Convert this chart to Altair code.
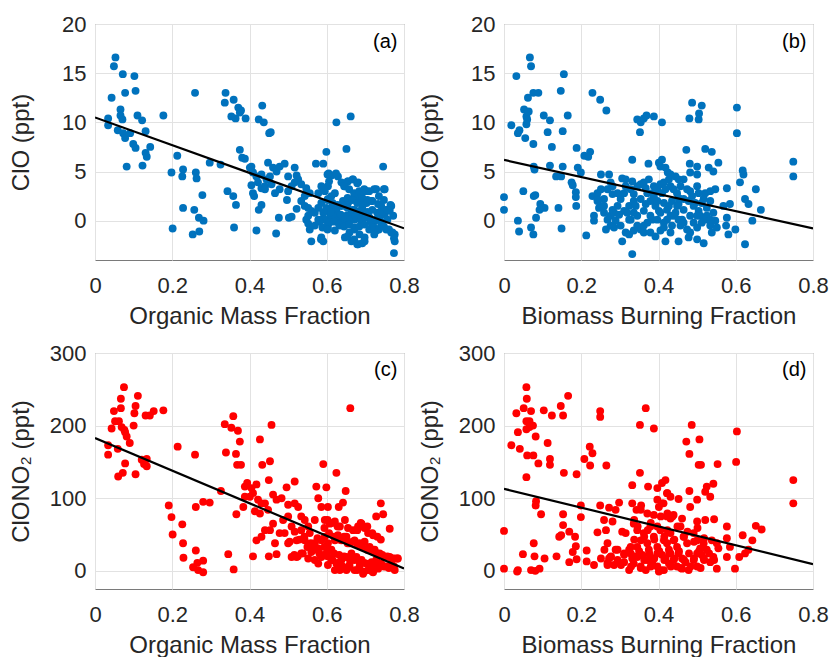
import altair as alt
import pandas as pd

# ---------------- data ----------------
# (a) ClO vs Organic Mass Fraction
a_x = [.053,.049,.072,.102,.105,.078,.043,.066,.066,.071,.034,.034,.059,.073,.078,.091,.110,.122,.131,.099,
       .105,.143,.131,.134,.082,.123,.177,.259,.213,.198,.228,.226,.261,.263,.278,.228,.257,.269,.281,.201,
       .253,.270,.297,.325,.338,.336,.359,.371,.375,.353,.364,.390,.378,.433,.424,.437,.455,.451,.375,.381,
       .388,.401,.405,.343,.358,.365,.360,.418,.469,.476,.409,.418,.431,.448,.461,.470,.478,.491,.517,.500,
       .522,.526,.453,.444,.422,.405,.431,.440,.457,.466,.478,.500,.509,.517,.534,.547,.556,.543,.534,.497,
       .522,.509,.502,.412,.409,.431,.424,.440,.543,.552,.560,.547,.552,.556,.569,.560,.586,.591,.599,.572,
       .591,.605,.612,.625,.662,.651,.603,.586,.578,.595,.603,.612,.621,.629,.638,.647,.655,.668,.681,.690,
       .703,.728,.750,.746,.586,.599,.608,.616,.625,.634,.642,.655,.668,.677,.690,.703,.716,.733,.741,.754,
       .767,.586,.603,.616,.629,.638,.651,.664,.672,.685,.698,.711,.724,.737,.750,.763,.772,.603,.621,.634,
       .647,.659,.672,.685,.698,.716,.728,.741,.754,.767,.776,.776,.681,.698,.664,.774,.647,.625,.672,.690,
       .707,.608,.591,.578,.569,.578,.552]
a_y = [16.6,15.7,14.9,14.7,13.2,13.0,12.5,11.3,10.7,10.3,10.4,9.7,9.2,8.9,8.4,8.9,10.7,10.2,9.1,7.8,
       7.4,7.5,6.9,6.5,5.5,5.6,10.7,13.0,6.6,4.9,5.2,4.5,4.9,4.3,2.6,1.3,1.1,0.3,0.0,-0.8,
       -1.4,-1.1,5.9,5.7,13.0,12.0,12.3,11.5,11.0,10.6,10.4,10.4,11.2,11.7,10.3,10.0,9.0,8.9,7.2,6.4,
       6.3,5.4,5.5,3.0,2.5,1.6,-0.7,-1.0,-1.3,0.3,4.9,4.5,4.7,5.9,5.4,5.0,5.5,5.8,5.4,4.5,
       4.6,4.2,4.5,4.2,3.9,3.6,3.3,3.5,3.7,2.8,3.2,3.0,3.5,3.9,3.7,3.3,2.8,2.5,2.0,2.1,
       1.2,0.4,0.3,2.5,2.8,1.6,1.1,3.2,1.5,1.3,1.0,0.1,-0.3,-0.9,-0.5,-2.1,-1.7,-2.1,7.0,5.8,
       5.8,4.8,4.6,10.0,10.6,7.3,3.5,3.5,2.8,3.0,2.2,2.5,2.8,4.5,3.9,3.5,4.0,4.2,3.9,2.8,
       3.0,3.2,3.2,5.5,1.8,1.3,0.8,1.5,1.0,1.5,2.0,1.8,2.2,2.3,2.0,1.8,2.0,1.7,1.5,1.1,
       1.5,0.1,-0.2,0.1,0.3,-0.2,0.5,0.8,0.1,0.5,0.6,0.3,0.0,0.5,0.6,1.0,0.5,-0.7,-1.0,-0.5,
       -1.7,-1.2,-0.9,-1.4,-1.7,-0.7,-1.0,-0.5,-0.9,-1.2,-1.4,-2.1,-2.4,-2.1,-2.1,-3.3,0.1,0.5,1.1,1.1,
       0.8,0.3,0.8,1.3,0.8,0.1,0.5]
# extra points from the dense cluster of (a)
a_x2 = [.602,.624,.606,.654,.667,.679,.645,.658,.671,.684,.697,.710,.723,.748,.692,.705,.718,.735,.748,.765,
        .654,.667,.679,.602,.615,.628,.641,.654,.667,.679,.692,.705,.718,.731,.744,.757,.598,.611,.624,.636,
        .649,.662,.675,.688,.701,.714,.727,.740,.757,.594,.606,.619,.632,.645,.658,.671,.684,.697,.710,.723,
        .735,.748,.761,.770,.581,.589,.602,.654,.671,.679,.692,.723,.774,.585]
a_y2 = [4.7,4.8,4.0,4.0,4.2,3.8,3.5,3.2,2.8,3.0,3.2,3.0,3.2,3.2,2.3,2.1,2.0,2.5,2.1,1.6,
        2.3,2.1,1.8,2.1,1.8,1.6,1.5,1.3,1.1,0.9,1.3,0.9,1.1,0.8,0.9,1.1,1.1,0.8,0.4,0.6,
        0.3,0.1,0.4,0.1,0.3,-0.1,0.1,-0.1,0.1,0.1,-0.2,-0.1,-0.4,-0.6,-0.4,-0.7,-0.6,-0.4,-0.9,-0.7,
        -0.9,-0.6,-0.9,-1.2,-0.1,-0.7,-0.9,-1.6,-1.9,-2.4,-2.3,-1.4,-1.8,-1.9]

# (b) ClO vs Biomass Burning Fraction
b_x = [.067,.070,.032,.155,.147,.076,.089,.062,.229,.249,.265,.052,.064,.058,.060,.058,.019,.040,.036,.055,
       .076,.103,.119,.113,.152,.165,.124,.188,.223,.208,.218,.077,.079,.119,.152,.135,.148,.175,.178,.186,
       .186,.187,.141,.149,.213,.233,.000,.000,.036,.039,.070,.076,.050,.081,.077,.094,.105,.092,.083,.191,
       .199,.229,.242,.251,.259,.246,.268,.264,.276,.285,.294,.302,.311,.328,.345,.354,.362,.375,.388,.397,
       .405,.414,.427,.431,.439,.448,.457,.465,.474,.482,.500,.521,.534,.547,.577,.611,.620,.652,.624,.633,
       .665,.643,.585,.568,.577,.575,.581,.599,.624,.618,.603,.603,.749,.749,.472,.481,.482,.500,.500,.521,
       .538,.530,.542,.555,.332,.374,.401,.409,.405,.418,.424,.431,.444,.452,.251,.272,.276,.306,.315,.332,
       .345,.354,.362,.369,.388,.409,.352,.487,.512,.505,.504,.480,.268,.281,.294,.251,.242,.233,.276,.289,
       .302,.315,.328,.336,.345,.354,.362,.371,.384,.392,.405,.418,.422,.435,.444,.452,.461,.474,.478,.491,
       .500,.517,.508,.521,.534,.547,.551,.332,.306,.259,.324,.367,.379,.392,.401,.414,.427,.435,.452,.465,
       .478,.491,.504,.512,.525,.311,.324,.336,.354,.371,.388,.409,.324,.345,.397,.414,.431,.457,.482,.525,
       .542]
b_y = [16.6,15.7,14.7,14.9,13.2,13.0,13.0,12.5,13.0,12.3,11.2,11.3,11.1,10.6,10.3,9.8,9.7,9.2,8.9,8.4,
       7.8,10.7,10.2,9.0,9.1,10.7,7.5,7.4,7.0,6.6,6.5,5.5,5.2,5.6,5.5,4.5,4.5,3.9,3.6,2.9,
       2.4,1.5,1.3,-0.8,-1.5,0.0,2.4,1.1,0.0,-1.1,-0.7,-1.4,3.0,2.6,2.5,1.7,1.3,1.1,0.3,5.4,
       4.9,2.5,2.0,1.5,2.2,1.3,0.1,-0.9,0.5,0.8,1.5,2.2,2.8,3.2,3.5,3.7,3.9,4.2,3.5,3.2,
       3.7,3.9,4.2,3.5,3.2,2.8,3.5,4.2,3.2,3.0,3.5,2.8,3.0,3.2,3.3,3.9,4.7,3.2,2.2,1.7,
       1.1,0.0,1.7,1.5,0.3,-0.5,-1.4,-0.9,-2.4,5.1,11.5,8.9,6.0,4.5,7.2,5.8,4.9,5.5,4.7,7.3,
       7.0,5.4,5.0,5.9,6.2,5.8,5.9,6.2,5.5,5.4,4.9,4.7,4.5,4.2,4.7,4.7,3.9,4.3,4.2,4.0,
       10.3,10.0,10.4,10.7,10.6,10.0,9.0,12.0,11.7,10.9,10.3,10.4,3.2,2.7,2.8,3.2,2.2,0.5,-0.5,0.0,
       -0.5,-1.2,0.1,0.8,-0.5,-0.9,-1.2,-0.2,0.1,-1.6,-1.0,-2.1,0.1,-0.5,0.8,-2.1,0.1,-0.9,-1.7,-0.2,
       -1.9,-2.3,0.5,0.1,-0.5,0.0,-0.7,-3.4,-2.1,0.8,-1.4,1.7,2.0,1.5,1.0,1.8,1.5,2.0,1.7,1.1,
       2.0,1.5,1.0,1.8,1.3,1.0,1.5,2.0,2.2,2.8,2.5,2.8,0.1,0.5,0.1,-0.2,0.5,-0.5,0.5,0.5,
       0.8]
# extra points from the dense cluster of (b)
b_x2 = [.242,.281,.315,.336,.367,.384,.418,.452,.465,.487,.504,.517,.534,.259,.281,.298,.319,.341,.362,.379,
        .405,.422,.440,.452,.465,.500,.512,.534,.285,.336,.362,.379,.414,.431,.482,.500,.538,.397,.448,.495]
b_y2 = [2.8,3.5,3.5,2.7,3.3,2.8,3.2,2.3,2.2,2.5,2.8,2.2,2.0,1.5,1.1,0.6,0.8,1.5,1.0,0.5,
        0.8,1.1,0.5,0.1,-0.2,0.5,-0.2,0.1,-0.7,-1.0,-0.5,-1.2,-0.7,-1.2,-1.2,-0.7,-1.2,2.0,1.5,1.8]

# (c) ClONO2 vs Organic Mass Fraction
c_x = [.075,.111,.067,.105,.067,.049,.102,.131,.142,.152,.177,.052,.062,.043,.069,.076,.078,.082,.090,.034,
       .034,.059,.078,.060,.072,.105,.121,.127,.134,.134,.100,.214,.259,.191,.198,.226,.201,.228,.229,.261,
       .254,.265,.280,.267,.280,.261,.280,.297,.326,.336,.353,.358,.370,.375,.339,.365,.368,.378,.366,.384,
       .345,.359,.388,.394,.405,.418,.427,.457,.433,.453,.450,.388,.401,.409,.414,.427,.422,.431,.440,.448,
       .461,.470,.483,.496,.517,.500,.517,.526,.461,.453,.440,.431,.418,.409,.450,.470,.466,.478,.487,.500,
       .509,.517,.522,.534,.543,.552,.556,.569,.573,.578,.586,.591,.599,.603,.625,.631,.642,.649,.661,.595,
       .608,.621,.634,.647,.655,.668,.681,.690,.698,.707,.720,.728,.746,.740,.763,.534,.543,.552,.560,.569,
       .578,.586,.595,.603,.612,.621,.629,.638,.651,.659,.672,.685,.698,.711,.724,.737,.750,.763,.776,.784,
       .522,.534,.552,.569,.586,.599,.612,.625,.638,.651,.664,.677,.690,.703,.716,.728,.741,.754,.767,.776,
       .634,.651,.672,.694,.720,.578,.603,.621,.659,.685,.707,.733,.500,.509,.491,.504]
c_y = [253,241,237,227,224,220,217,214,214,220,221,206,206,196,198,194,191,185,176,173,
       160,168,148,130,135,133,153,147,154,144,200,171,160,90,74,64,50,38,18,28,
       5,11,14,1,-2,88,95,94,110,202,197,213,193,178,163,161,146,146,78,88,
       23,2,116,121,114,119,181,201,146,151,125,102,102,107,82,79,98,93,93,84,
       105,98,100,115,123,91,93,88,65,56,56,47,42,20,20,23,38,52,70,75,
       61,54,42,75,70,61,52,70,116,100,88,147,115,88,135,88,94,110,224,70,
       65,68,61,70,59,56,61,65,59,52,49,75,78,93,58,56,42,33,26,38,
       31,42,47,38,29,42,49,42,47,38,42,38,40,33,29,24,19,19,17,17,
       19,24,17,15,19,24,15,10,15,19,24,19,15,10,12,15,10,6,10,1,
       1,1,1,-4,-2,10,8,1,8,6,1,3,38,19,52,40]
# extra points from the dense cluster of (c)
c_x2 = [.602,.615,.628,.594,.606,.619,.632,.645,.654,.667,.679,.692,.705,.718,.731,.744,.757,.770,.783,.594,
        .606,.619,.632,.645,.658,.671,.684,.697,.710,.723,.735,.748,.761,.774,.628,.641,.654,.679,.697,.718,
        .615,.602,.581,.568,.559,.550,.538,.525,.516,.542,.529,.576,.679,.688,.705,.718,.731,.740]
c_y2 = [70,66,61,59,52,47,43,47,38,40,36,33,29,27,24,22,20,17,17,33,
        29,24,22,20,17,15,13,11,8,6,8,6,4,6,11,6,4,1,-1,-1,
        15,20,24,29,38,33,24,20,22,47,43,45,56,66,61,52,47,43]

# (d) ClONO2 vs Biomass Burning Fraction
d_x = [.058,.166,.059,.051,.032,.070,.103,.124,.147,.153,.249,.249,.058,.066,.075,.058,.066,.036,.082,.019,
       .041,.113,.222,.229,.208,.223,.060,.076,.089,.119,.119,.265,.058,.155,.188,.352,.388,.367,.486,.472,
       .506,.480,.504,.510,.553,.603,.601,.749,.749,.352,.332,.373,.397,.409,.418,.422,.431,.452,.480,.500,
       .521,.525,.542,.534,.083,.082,.096,.153,.153,.199,.199,.249,.272,.289,.298,.332,.343,.355,.371,.388,
       .401,.409,.422,.431,.439,.461,.482,.500,.521,.544,.577,.652,.667,.618,.643,.143,.148,.169,.184,.186,
       .178,.000,.077,.049,.079,.105,.136,.000,.036,.034,.070,.081,.092,.169,.188,.214,.214,.233,.242,.259,
       .264,.268,.281,.272,.289,.306,.315,.311,.324,.328,.336,.345,.354,.362,.371,.379,.388,.397,.405,.414,
       .422,.431,.439,.448,.457,.465,.474,.491,.500,.508,.517,.525,.538,.551,.555,.577,.585,.577,.609,.624,
       .633,.598,.551,.276,.294,.311,.332,.345,.358,.371,.384,.397,.401,.414,.427,.439,.452,.461,.470,.478,
       .491,.500,.517,.534,.542,.251,.268,.285,.302,.336,.354,.367,.379,.431,.448,.461,.500,.512,.397,.409,
       .418,.427,.375,.345,.328]
d_y = [253,241,237,224,217,220,221,214,227,214,220,212,206,206,200,195,198,191,185,173,
       168,176,171,162,154,145,159,159,148,154,146,145,129,135,133,201,196,224,201,178,
       181,161,146,146,147,192,150,125,93,135,118,116,114,121,125,107,102,99,110,98,
       109,116,120,102,96,90,78,78,63,90,74,90,87,84,94,93,84,90,79,77,
       88,93,75,72,77,72,88,68,70,71,61,62,57,49,42,47,49,54,47,34,
       26,55,38,23,20,17,20,3,1,-1,1,0,3,12,16,28,13,8,53,70,
       56,38,68,17,29,54,52,24,1,33,65,56,42,52,38,61,47,33,56,42,
       38,52,42,33,61,47,38,52,42,31,38,29,42,38,31,45,33,19,19,24,
       29,3,3,19,15,12,17,19,22,15,10,6,-1,1,10,15,24,17,12,1,
       15,6,17,12,19,17,8,8,10,10,6,1,19,24,6,3,24,22,24,22,
       17,29,29,33,24]
# extra points from the dense cluster of (d)
d_x2 = [.260,.277,.294,.311,.324,.337,.350,.363,.376,.389,.402,.415,.428,.441,.453,.466,.479,.492,.505,.518,
        .531,.544,.268,.303,.329,.354,.380,.406,.432,.458,.483,.509,.337,.363,.389,.415,.441,.466,.492,.518,
        .346,.372,.397,.423,.449,.475,.501,.406,.423,.436,.413,.397,.423,.354,.337,.380]
d_y2 = [29,20,29,22,29,20,27,15,24,17,27,15,24,17,27,15,24,17,27,15,
        24,15,11,8,6,4,6,1,6,4,6,4,43,47,43,47,43,47,40,45,
        61,56,61,56,61,54,59,75,79,75,93,98,107,84,70,66]

# regression lines (end points read at x = 0 and x = 0.8)
line_x = [0.0, 0.8]
a_line = [10.5, -0.78]
b_line = [6.18, -0.78]
c_line = [183.0, 3.2]
d_line = [113.0, 9.2]

x_ticks = [0, 0.2, 0.4, 0.6, 0.8]
clo_ticks = [0, 5, 10, 15, 20]
clono2_ticks = [0, 100, 200, 300]
clo_domain = [-4, 20]
clono2_domain = [-25, 300]

BLUE = "#0072BD"
RED = "#FF0000"
FONT = "Liberation Sans"
W, H = 309, 236


def panel(xs, ys, color, xtitle, ytitle, ydom, yticks, line_y, tag, tag_y):
    df = pd.DataFrame({"x": xs, "y": ys})
    ldf = pd.DataFrame({"x": line_x, "y": line_y})
    tdf = pd.DataFrame({"x": [0.783], "y": [tag_y], "t": [tag]})
    xscale = alt.Scale(domain=[0, 0.8], nice=False, zero=False)
    yscale = alt.Scale(domain=ydom, nice=False, zero=False)
    xaxis = alt.Axis(values=x_ticks, format="~g", title=xtitle, labelFlush=False,
                     titleX=W / 2, titleY=63, titleBaseline="alphabetic", titleAlign="center")
    yaxis = alt.Axis(values=yticks, format="d", title=ytitle,
                     titleX=-67, titleY=H / 2, titleAngle=270, titleBaseline="alphabetic",
                     titleAlign="center")
    pts = alt.Chart(df).mark_circle(size=62, color=color, opacity=1).encode(
        x=alt.X("x:Q", scale=xscale, axis=xaxis),
        y=alt.Y("y:Q", scale=yscale, axis=yaxis),
    )
    ln = alt.Chart(ldf).mark_line(color="black", strokeWidth=2.2, clip=True).encode(
        x=alt.X("x:Q", scale=xscale), y=alt.Y("y:Q", scale=yscale)
    )
    tx = alt.Chart(tdf).mark_text(align="right", baseline="middle", fontSize=20,
                                  font=FONT, color="black").encode(
        x=alt.X("x:Q", scale=xscale), y=alt.Y("y:Q", scale=yscale), text="t:N"
    )
    return alt.layer(pts, ln, tx).properties(width=W, height=H)


pa = panel(a_x + a_x2, a_y + a_y2, BLUE, "Organic Mass Fraction", "ClO (ppt)",
           clo_domain, clo_ticks, a_line, "(a)", 18.2)
pb = panel(b_x + b_x2, b_y + b_y2, BLUE, "Biomass Burning Fraction", "ClO (ppt)",
           clo_domain, clo_ticks, b_line, "(b)", 18.2)
pc = panel(c_x + c_x2, c_y + c_y2, RED, "Organic Mass Fraction", "ClONO₂ (ppt)",
           clono2_domain, clono2_ticks, c_line, "(c)", 277)
pd_ = panel(d_x + d_x2, d_y + d_y2, RED, "Biomass Burning Fraction", "ClONO₂ (ppt)",
            clono2_domain, clono2_ticks, d_line, "(d)", 277)

chart = alt.concat(pa, pb, pc, pd_, columns=2, spacing={"row": 93, "column": 100}, bounds="flush").properties(
    padding={"left": 8, "top": 12, "right": 0, "bottom": 0}
).configure(font=FONT).configure_axis(
    labelFont=FONT, labelFontSize=22, labelColor="#262626", labelPadding=9,
    titleFont=FONT, titleFontSize=24, titleFontWeight="normal", titleColor="#262626",
    gridColor="#e2e2e2", gridWidth=1, domain=False, ticks=True, tickSize=0,
).configure_axisBottom(labelPadding=25, labelBaseline="middle").configure_view(
    stroke="#7a7a7a", strokeWidth=1
)

chart.save("out.html", embed_options={"renderer": "svg", "actions": False})
